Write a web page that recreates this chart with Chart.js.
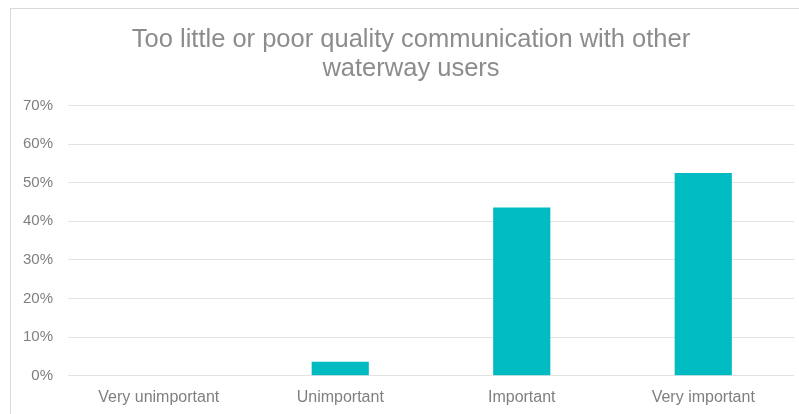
<!DOCTYPE html>
<html>
<head>
<meta charset="utf-8">
<script src="https://cdn.jsdelivr.net/npm/chart.js@4/dist/chart.umd.min.js"></script>
<style>
  html, body { margin: 0; padding: 0; background: #fff; overflow: hidden; }
  #frame { position: absolute; left: 10px; top: 8px; width: 820px; height: 440px; border: 1px solid #d9d9d9; box-sizing: border-box; }
  #wrap { position: absolute; left: 0; top: 0; width: 799px; height: 414px; }
</style>
</head>
<body>
<div id="frame"></div>
<div id="wrap"><canvas id="c" width="799" height="414"></canvas></div>
<script>
const categories = ["Very unimportant", "Unimportant", "Important", "Very important"];
const values = [0, 3.6, 43.6, 52.5];
const yTicks = [0, 10, 20, 30, 40, 50, 60, 70];
const titleLines = ["Too little or poor quality communication with other", "waterway users"];

const fontFamily = "'Liberation Sans', 'DejaVu Sans', sans-serif";

// Title drawn slightly right of the canvas centre, as in the reference
const offsetTitle = {
  id: 'offsetTitle',
  afterDraw(chart) {
    const ctx = chart.ctx;
    ctx.save();
    ctx.fillStyle = '#8c8c8c';
    ctx.font = "normal 25.5px " + fontFamily;
    ctx.textAlign = 'center';
    ctx.textBaseline = 'middle';
    const cx = 411, lh = 29, top = 25;
    titleLines.forEach((t, i) => ctx.fillText(t, cx, top + lh * i + lh / 2));
    ctx.restore();
  }
};

new Chart(document.getElementById('c'), {
  type: 'bar',
  data: {
    labels: categories,
    datasets: [{
      data: values,
      backgroundColor: '#00BCC2',
      borderWidth: 0,
      categoryPercentage: 1.0,
      barPercentage: 0.315
    }]
  },
  plugins: [offsetTitle],
  options: {
    responsive: false,
    animation: false,
    devicePixelRatio: 1,
    layout: { padding: { left: 0, right: 5, top: 105.5, bottom: 7 } },
    plugins: {
      legend: { display: false },
      tooltip: { enabled: false },
      title: { display: false }
    },
    scales: {
      x: {
        grid: { display: false, drawTicks: false },
        border: { display: false },
        afterFit: (axis) => { axis.height = 31.3; },
        ticks: {
          color: '#7f7f7f',
          font: { family: fontFamily, size: 16 },
          padding: 12,
          maxRotation: 0
        }
      },
      y: {
        min: 0,
        max: 70,
        afterBuildTicks: (axis) => { axis.ticks = yTicks.map(v => ({ value: v })); },
        afterFit: (axis) => { axis.width = 68; },
        grid: { color: '#e3e3e3', lineWidth: 1, drawTicks: false },
        border: { display: false },
        ticks: {
          color: '#7f7f7f',
          font: { family: fontFamily, size: 15 },
          padding: 15,
          callback: (v) => v + '%'
        }
      }
    }
  }
});
</script>
</body>
</html>
